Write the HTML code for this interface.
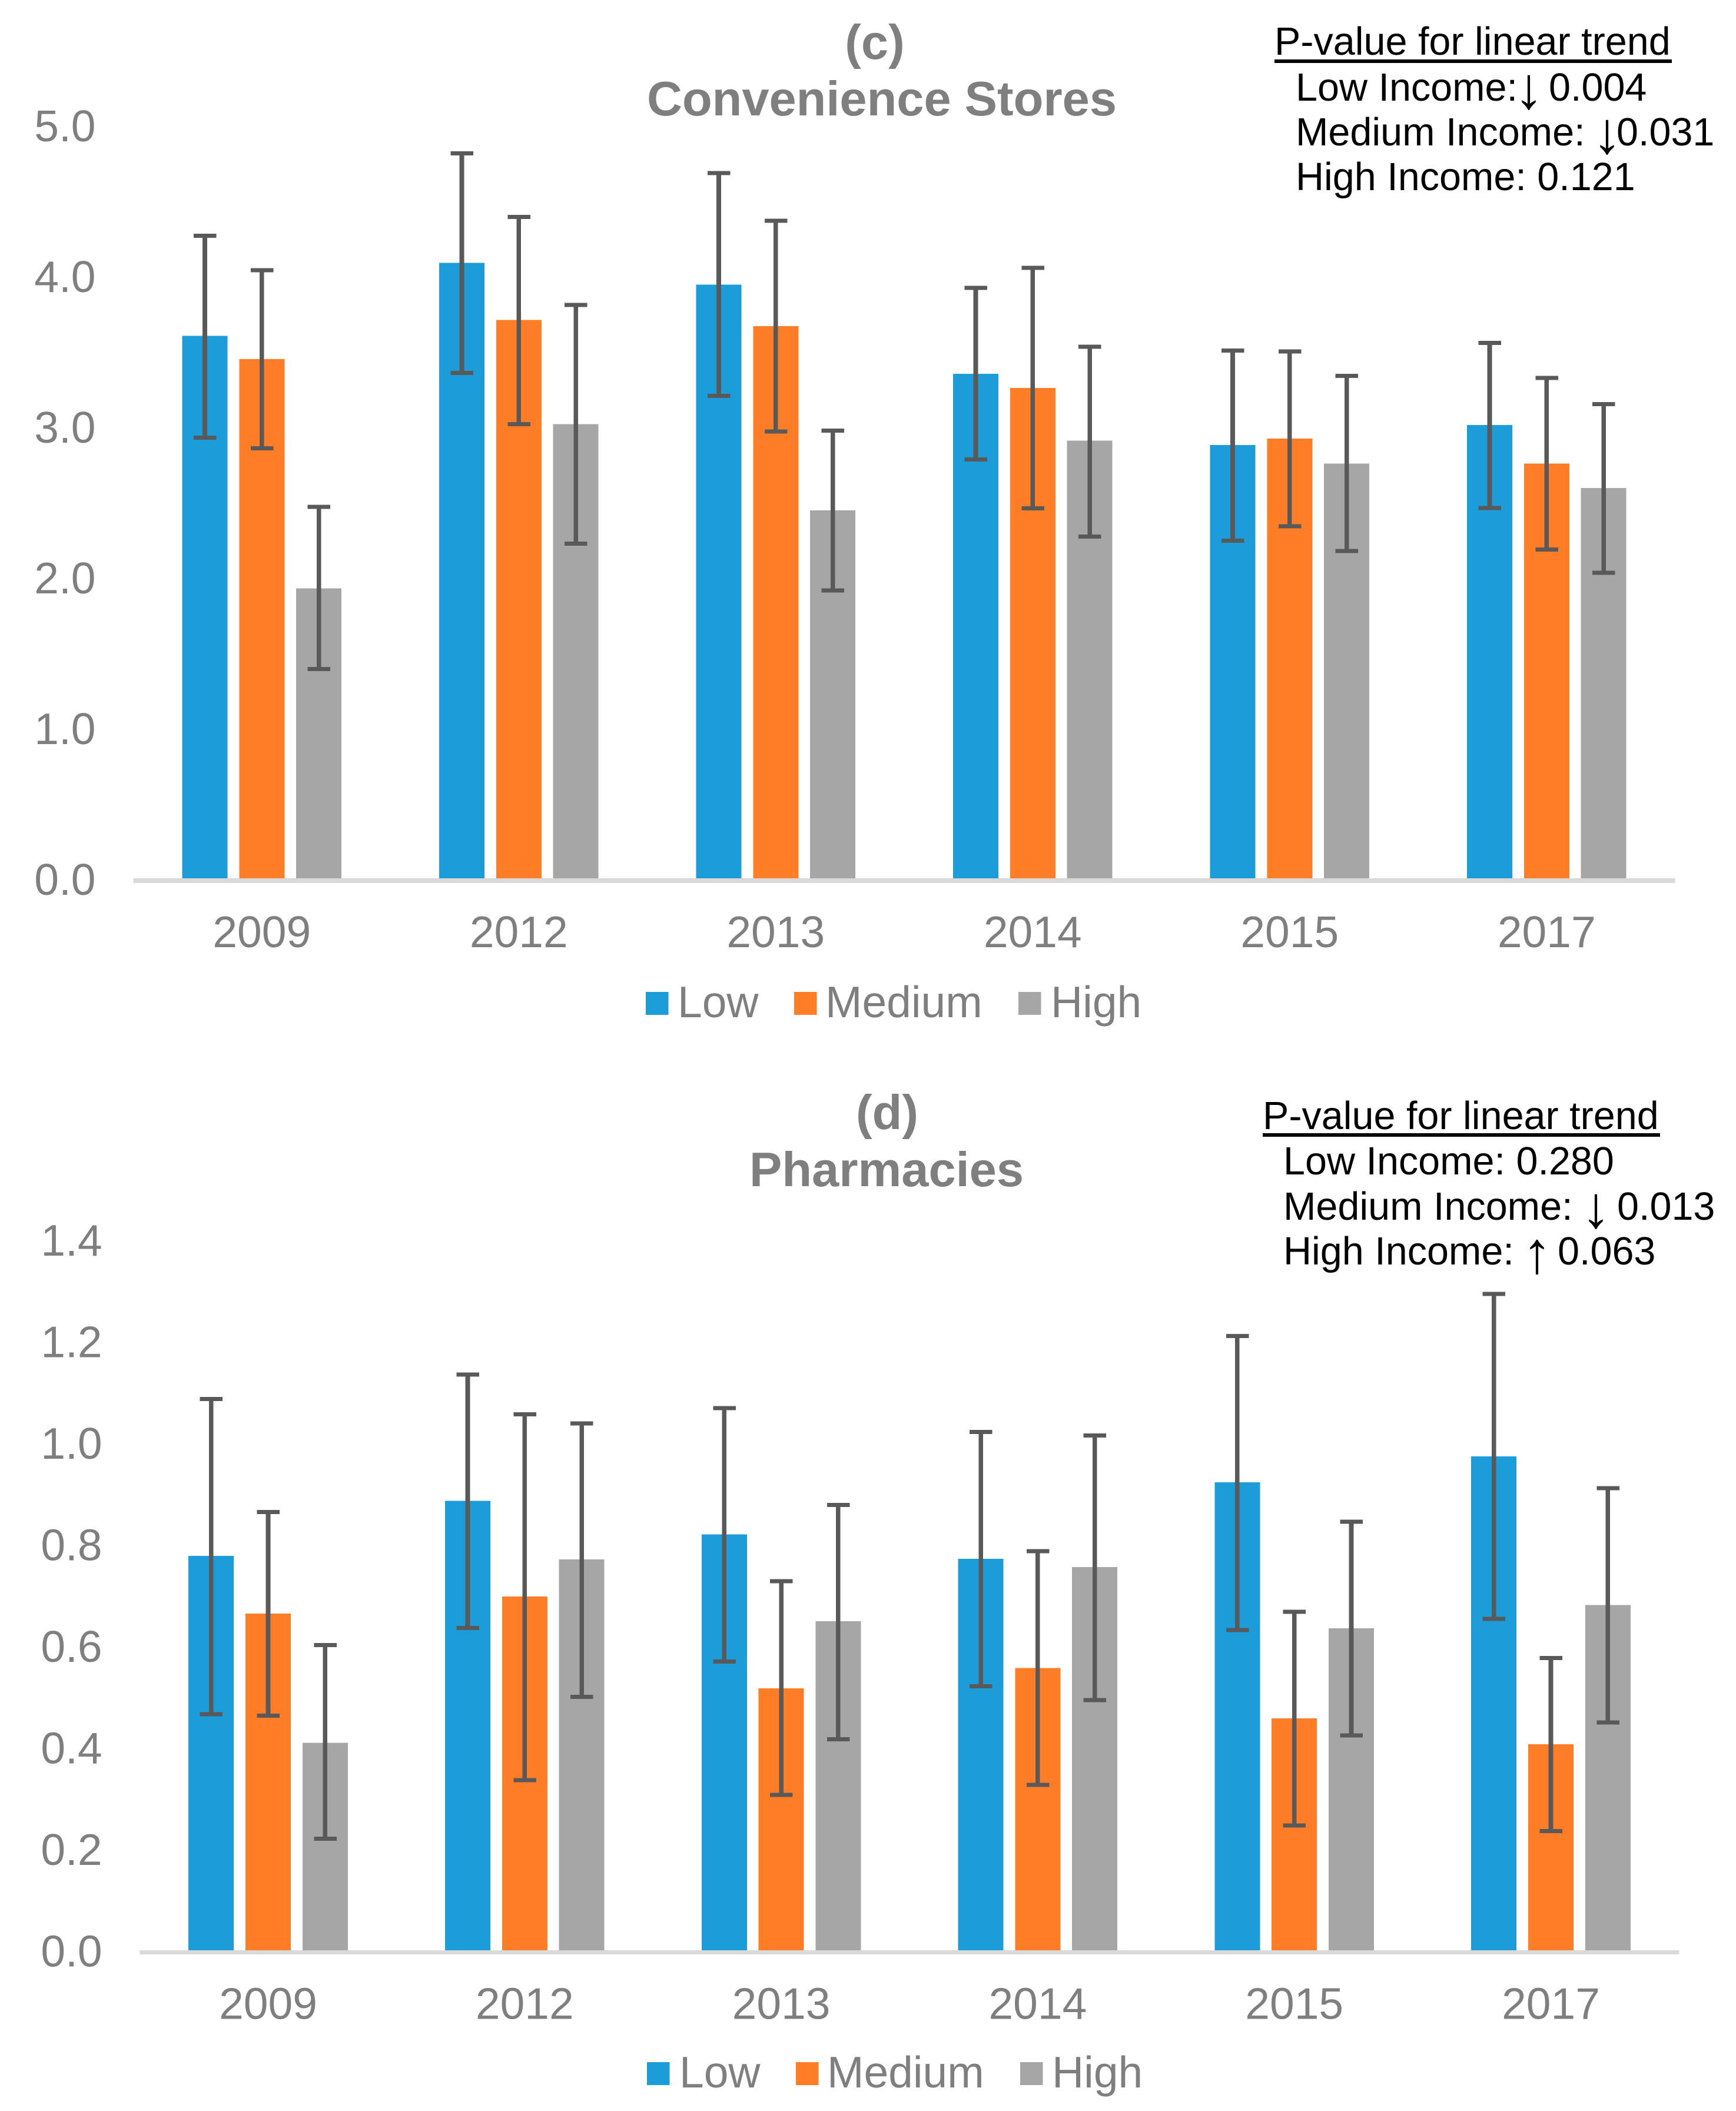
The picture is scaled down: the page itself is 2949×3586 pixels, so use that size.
<!DOCTYPE html>
<html lang="en">
<head>
<meta charset="utf-8">
<title>Convenience Stores and Pharmacies by Income</title>
<style>
html,body{margin:0;padding:0;background:#fff;}
svg{display:block;}
text{font-family:"Liberation Sans",Arial,sans-serif;}
</style>
</head>
<body>
<svg id="figure" xmlns="http://www.w3.org/2000/svg" width="2949" height="3586" viewBox="0 0 2949 3586">
<rect width="2949" height="3586" fill="#fff"/>
<g id="panel-c">
<text x="1486" y="100" text-anchor="middle" font-size="83" font-weight="bold" fill="#7f7f7f">(c)</text>
<text x="1498" y="196" text-anchor="middle" font-size="83" font-weight="bold" fill="#7f7f7f">Convenience Stores</text>
<g>
<text x="2165" y="93" font-size="66.5" fill="#000">P-value for linear trend</text>
<rect x="2165" y="101" width="675" height="6" fill="#000"/>
<text x="2201" y="171" font-size="66.5" fill="#000">Low Income:<tspan font-size="100" x="2572" y="184">↓</tspan><tspan x="2631" y="171">0.004</tspan></text>
<text x="2201" y="247" font-size="66.5" fill="#000">Medium Income: <tspan font-size="100" x="2705" y="260">↓</tspan><tspan x="2746" y="247">0.031</tspan></text>
<text x="2201" y="323" font-size="66.5" fill="#000">High Income: 0.121</text>
</g>
</g>
<g id="panel-d">
<text x="1507" y="1918" text-anchor="middle" font-size="83" font-weight="bold" fill="#7f7f7f">(d)</text>
<text x="1506" y="2015" text-anchor="middle" font-size="83" font-weight="bold" fill="#7f7f7f">Pharmacies</text>
<g>
<text x="2145" y="1918" font-size="66.5" fill="#000">P-value for linear trend</text>
<rect x="2145" y="1925" width="675" height="6" fill="#000"/>
<text x="2180" y="1995" font-size="66.5" fill="#000">Low Income: 0.280</text>
<text x="2180" y="2072" font-size="66.5" fill="#000">Medium Income: <tspan font-size="100" x="2686" y="2085">↓</tspan><tspan x="2747" y="2072">0.013</tspan></text>
<text x="2180" y="2148" font-size="66.5" fill="#000">High Income: <tspan font-size="100" x="2586" y="2162">↑</tspan><tspan x="2646" y="2148">0.063</tspan></text>
</g>
</g>
</svg>
<script>
var categories = ['2009', '2012', '2013', '2014', '2015', '2017'];
var seriesNames = ['Low', 'Medium', 'High'];

var cTicks = ['0.0', '1.0', '2.0', '3.0', '4.0', '5.0'];
var cLow = [3.615, 4.10, 3.956, 3.363, 2.891, 3.023];
var cMedium = [3.46, 3.72, 3.68, 3.27, 2.934, 2.768];
var cHigh = [1.94, 3.03, 2.457, 2.919, 2.768, 2.605];
var cLowUpper = [4.28, 4.827, 4.695, 3.933, 3.518, 3.569];
var cLowLower = [2.94, 3.37, 3.217, 2.794, 2.256, 2.472];
var cMediumUpper = [4.05, 4.405, 4.378, 4.066, 3.512, 3.336];
var cMediumLower = [2.87, 3.03, 2.98, 2.47, 2.352, 2.197];
var cHighUpper = [2.48, 3.82, 2.987, 3.543, 3.349, 3.162];
var cHighLower = [1.404, 2.237, 1.926, 2.284, 2.188, 2.042];

var dTicks = ['0.0', '0.2', '0.4', '0.6', '0.8', '1.0', '1.2', '1.4'];
var dLow = [0.781, 0.889, 0.823, 0.775, 0.926, 0.977];
var dMedium = [0.667, 0.701, 0.52, 0.56, 0.461, 0.41];
var dHigh = [0.413, 0.774, 0.652, 0.759, 0.638, 0.684];
var dLowUpper = [1.09, 1.138, 1.072, 1.025, 1.214, 1.297];
var dLowLower = [0.469, 0.639, 0.573, 0.524, 0.635, 0.657];
var dMediumUpper = [0.867, 1.06, 0.731, 0.79, 0.671, 0.58];
var dMediumLower = [0.466, 0.339, 0.31, 0.33, 0.25, 0.239];
var dHighUpper = [0.605, 1.042, 0.881, 1.018, 0.848, 0.914];
var dHighLower = [0.224, 0.503, 0.42, 0.497, 0.427, 0.453];

var SVGNS = 'http://www.w3.org/2000/svg';
var COLORS = ['#1c9cd9', '#ff7d26', '#a6a6a6'];
var ERR = '#595959';
var GRAY = '#7f7f7f';
var BAR_W = 77;
var BAR_STEP = 96.8;

function shape(parent, tag, attrs) {
  var el = document.createElementNS(SVGNS, tag);
  for (var k in attrs) { el.setAttribute(k, attrs[k]); }
  parent.appendChild(el);
  return el;
}
function box(parent, x, y, w, h, fill) {
  return shape(parent, 'rect', {x: x, y: y, width: w, height: h, fill: fill, 'shape-rendering': 'crispEdges'});
}
function label(parent, x, y, anchor, size, str) {
  var t = shape(parent, 'text', {x: x, y: y, 'text-anchor': anchor, 'font-size': size, fill: GRAY});
  t.textContent = str;
  return t;
}

function drawChart(parent, cfg) {
  var xBand = (cfg.x1 - cfg.x0) / categories.length;
  function xCenter(i) { return cfg.x0 + xBand * (i + 0.5); }
  function yScale(v) { return cfg.y0 - v * cfg.unit; }

  cfg.ticks.forEach(function (tick) {
    var t = label(parent, cfg.x0 - 64, yScale(parseFloat(tick)) + 24, 'end', 75, tick);
    
    
  });

  categories.forEach(function (cat, i) {
    cfg.values.forEach(function (vals, s) {
      var cx = xCenter(i) + (s - 1) * BAR_STEP;
      var bar = box(parent, cx - BAR_W / 2, yScale(vals[i]), BAR_W, yScale(0) - yScale(vals[i]), COLORS[s]);
      
      
    });
  });

  var axis = box(parent, cfg.x0, cfg.y0 - cfg.axisH / 2, cfg.x1 - cfg.x0, cfg.axisH, '#d9d9d9');
  
  

  categories.forEach(function (cat, i) {
    cfg.values.forEach(function (vals, s) {
      var cx = xCenter(i) + (s - 1) * BAR_STEP;
      var top = yScale(cfg.upper[s][i]);
      var bottom = yScale(cfg.lower[s][i]);
      var g = shape(parent, 'g', {});
      
      
      box(g, cx - 3.8, top, 7.6, bottom - top, ERR);
      box(g, cx - 19, top - 3.5, 38.5, 7, ERR);
      box(g, cx - 19, bottom - 3.5, 38.5, 7, ERR);
    });
    var t = label(parent, xCenter(i), cfg.y0 + 113, 'middle', 75, cat);
    
    
  });

  var legend = shape(parent, 'g', {});
  
  
  seriesNames.forEach(function (name, s) {
    var entry = shape(legend, 'g', {});
    
    
    box(entry, cfg.legendSwatch[s], cfg.legendSwatchY, 38.5, 39, COLORS[s]);
    label(entry, cfg.legendText[s], cfg.legendTextY, 'start', 75, name);
  });
}

var panelC = document.getElementById('panel-c');
var panelD = document.getElementById('panel-d');

drawChart(panelC, {
  x0: 226.5, x1: 2845.5, y0: 1496, unit: 256, axisH: 8,
  ticks: cTicks,
  values: [cLow, cMedium, cHigh],
  upper: [cLowUpper, cMediumUpper, cHighUpper],
  lower: [cLowLower, cMediumLower, cHighLower],
  legendSwatch: [1097, 1349, 1730],
  legendText: [1151, 1402, 1785],
  legendSwatchY: 1685,
  legendTextY: 1728
});

drawChart(panelD, {
  x0: 237.6, x1: 2852.4, y0: 3316.5, unit: 862.5, axisH: 7,
  ticks: dTicks,
  values: [dLow, dMedium, dHigh],
  upper: [dLowUpper, dMediumUpper, dHighUpper],
  lower: [dLowLower, dMediumLower, dHighLower],
  legendSwatch: [1099, 1352, 1733],
  legendText: [1154, 1405, 1787],
  legendSwatchY: 3503,
  legendTextY: 3546
});
</script>
</body>
</html>
